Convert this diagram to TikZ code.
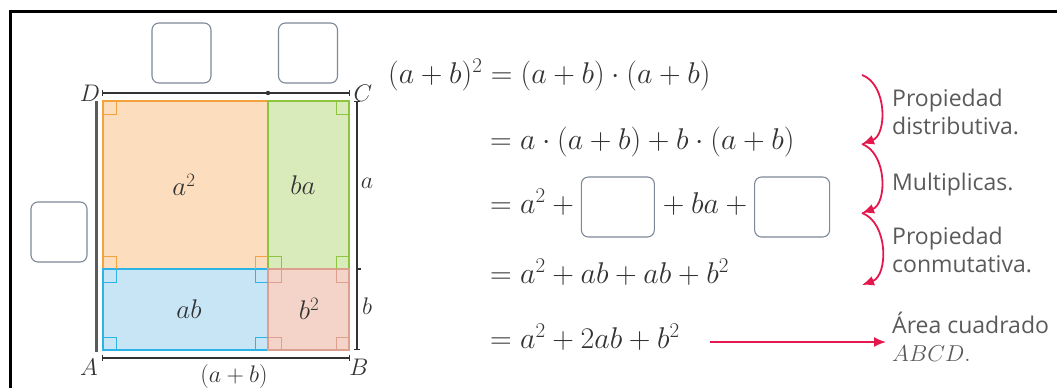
\documentclass[tikz,border=0pt]{standalone}
\usepackage{fix-cm}
\usepackage{fontspec}
\usepackage{amsmath}
\usepackage{tikz}
\usetikzlibrary{arrows.meta,positioning,calc}
\newfontfamily\notefont{Open Sans}
\definecolor{Ink}{HTML}{333333}
\definecolor{Muted}{HTML}{5A5A5A}
\definecolor{BoxLine}{HTML}{7E8898}
\definecolor{Orange}{HTML}{F4A23E}
\definecolor{OrangeSoft}{HTML}{FCDDBD}
\definecolor{Green}{HTML}{8DC540}
\definecolor{GreenSoft}{HTML}{DAEBBB}
\definecolor{Sky}{HTML}{2DB3E6}
\definecolor{SkySoft}{HTML}{C8E5F6}
\definecolor{Rose}{HTML}{DDA08E}
\definecolor{RoseSoft}{HTML}{F4D4C8}
\definecolor{Crimson}{HTML}{E5184D}
\tikzset{
  frame/.style={draw=black,line width=3pt},
  blank/.style={draw=BoxLine,fill=white,line width=1.1pt,rounded corners=7pt,minimum width=59pt,minimum height=60pt},
  piece/.style={line width=1.6pt},
  corner/.style={line width=1pt},
  dimline/.style={draw=Ink,line width=1.4pt,{Bar[width=6pt]}-{Bar[width=6pt]}},
  sidebar/.style={draw=Muted,line width=3pt},
  tag/.style={text=Ink,font=\fontsize{27}{29}\selectfont,inner sep=0pt},
  vertex/.style={text=Ink,font=\fontsize{24}{26}\selectfont,inner sep=0pt},
  eqline/.style={text=Ink,font=\fontsize{30}{32}\selectfont,inner sep=0pt,text height=21pt,text depth=8pt,anchor=west},
  note/.style={text=Muted,font=\notefont\fontsize{23}{28}\selectfont,align=left,anchor=west,inner sep=0pt},
  flow/.style={-{Latex[length=12pt,width=10pt]},draw=Crimson,line width=1.8pt}
}
\begin{document}
\begin{tikzpicture}[x=1pt,y=-1pt]
  \useasboundingbox (0,0) rectangle (1057,388);
  \draw[frame] (10,390) -- (10,11) -- (1060,11);
  \filldraw[piece,draw=Orange,fill=OrangeSoft] (103,101) rectangle (268,269);
  \filldraw[piece,draw=Green,fill=GreenSoft] (268,101) rectangle (349,269);
  \filldraw[piece,draw=Sky,fill=SkySoft] (103,269) rectangle (268,350);
  \filldraw[piece,draw=Rose,fill=RoseSoft] (268,269) rectangle (349,350);
  \foreach \x/\y/\dx/\dy/\c in {103/101/1/1/Orange,103/269/1/-1/Orange,268/269/-1/-1/Orange,
    349/101/-1/1/Green,268/269/1/-1/Green,349/269/-1/-1/Green,
    103/269/1/1/Sky,268/269/-1/1/Sky,103/350/1/-1/Sky,268/350/-1/-1/Sky,
    268/269/1/1/Rose,349/269/-1/1/Rose,268/350/1/-1/Rose,349/350/-1/-1/Rose}
    \draw[corner,\c] ({\x+\dx*13},\y) |- (\x,{\y+\dy*13});
  \draw[sidebar] (96,101) -- (96,352);
  \draw[dimline] (102,93) -- (350,93);
  \fill[Ink] (268,93) circle (2.2);
  \draw[dimline] (357,101) -- (357,350);
  \draw[Ink,line width=1.4pt] (357,269) -- (361,269);
  \draw[dimline] (102,358) -- (350,358);
  \node[tag] (asq) at (184,185) {$a^2$};
  \node[tag] (basq) at (303,185) {$ba$};
  \node[tag] (absq) at (189,309) {$ab$};
  \node[tag] (bsq) at (309,309) {$b^2$};
  \node[vertex] (ptD) at (90,93) {$D$};
  \node[vertex] (ptC) at (363,93) {$C$};
  \node[vertex] (ptA) at (89,367) {$A$};
  \node[vertex] (ptB) at (359,367) {$B$};
  \node[vertex] (sidea) at (367,183) {$a$};
  \node[vertex] (sideb) at (367,306) {$b$};
  \node[vertex] (base) at (234,376) {$(a+b)$};
  \node[blank] (topa) at (181.5,53) {};
  \node[blank] (topb) at (308,53) {};
  \node[blank,minimum width=56pt] (lefta) at (59,232) {};
  \node[eqline] (eqa) at (388,77) {$(a+b)^2=(a+b)\cdot(a+b)$};
  \node[eqline] (eqb) at (490,143) {$=a\cdot(a+b)+b\cdot(a+b)$};
  \node[eqline] (eqc) at (490,207) {$=a^2+{}$};
  \node[blank,minimum width=73pt,right=0pt of eqc] (gapa) {};
  \node[eqline,right=1pt of gapa] (eqcmid) {${}+ba+{}$};
  \node[blank,minimum width=75pt,right=0pt of eqcmid] (gapb) {};
  \node[eqline] (eqd) at (490,277) {$=a^2+ab+ab+b^2$};
  \node[eqline] (eqe) at (490,342) {$=a^2+2ab+b^2$};
  \node[note] (distr) at (892,112) {Propiedad\\distributiva.};
  \node[note] (mult) at (892,185) {Multiplicas.};
  \node[note] (conm) at (892,250) {Propiedad\\conmutativa.};
  \node[note] (area) at (892,337) {Área cuadrado\\$ABCD.$};
  \coordinate (s0) at (862,75);
  \coordinate (s1) at (862,144);
  \coordinate (s2) at (862,213);
  \coordinate (s3) at (862,285);
  \draw[flow] (s0) to[bend left=70] (s1);
  \draw[flow] (s1) to[bend left=70] (s2);
  \draw[flow] (s2) to[bend left=70] (s3);
  \draw[flow,shorten <=30pt,shorten >=6pt] (eqe.east) -- (eqe.east -| area.west);
\end{tikzpicture}
\end{document}
